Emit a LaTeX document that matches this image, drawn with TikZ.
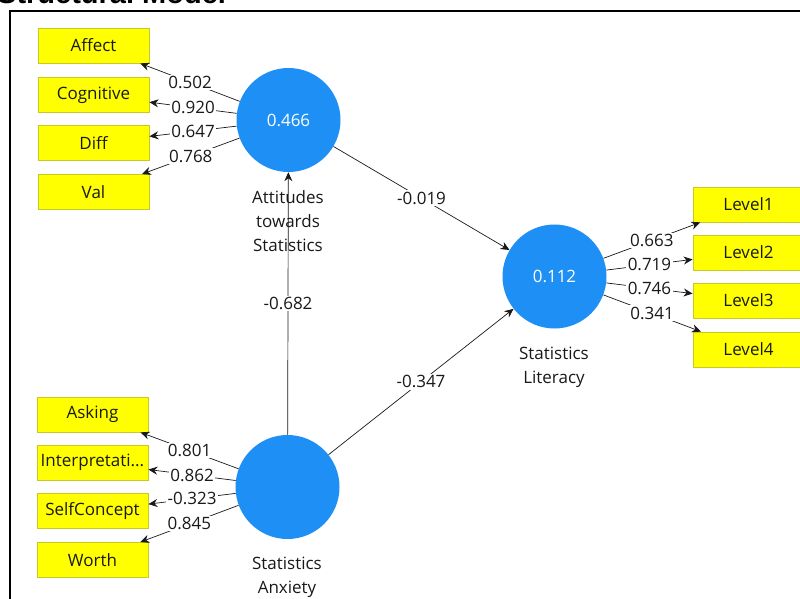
\documentclass[tikz,border=0pt]{standalone}
\usepackage{fontspec}
\setmainfont{Open Sans}
\newfontfamily\titlefont{Liberation Sans}
\usetikzlibrary{arrows.meta}
\definecolor{lvblue}{RGB}{30,143,245}
\definecolor{indyellow}{RGB}{255,255,0}
\definecolor{indborder}{RGB}{200,200,40}
\definecolor{txt}{RGB}{25,25,25}
\begin{document}
\begin{tikzpicture}[x=1pt,y=-1pt,
  font=\fontsize{17}{20}\selectfont,
  indbox/.style={draw=indborder, line width=0.8pt, fill=indyellow, minimum width=111pt, minimum height=35pt, inner sep=0pt, text=txt},
  latent/.style={circle, fill=lvblue, minimum size=104pt, inner sep=0pt, text=white},
  lvname/.style={align=center, text=txt, font=\fontsize{17}{24}\selectfont},
  conn/.style={draw=txt, line width=0.7pt, -{Stealth[length=9pt,width=8pt]}},
  coef/.style={fill=white, inner sep=1.5pt, text=txt}]
\useasboundingbox (0,0) rectangle (800,599);
\begin{scope}
\clip (0,0) rectangle (800,599);
% title (cut off at top)
\node[anchor=base west, inner sep=0pt, font=\titlefont\bfseries\fontsize{29}{32}\selectfont] (title) at (-3,3.5) {Structural Model};
% frame
\draw[line width=1.6pt] (10,610) -- (10,11) -- (810,11);
% indicator boxes
\node[indbox] (affect) at (93.5,45.5) {Affect};
\node[indbox] (cog) at (93.5,95) {Cognitive};
\node[indbox] (diff) at (93.5,143) {Diff};
\node[indbox] (val) at (93.5,192) {Val};
\node[indbox] (ask) at (92.5,414.5) {Asking};
\node[indbox] (interp) at (92.5,462.5) {Interpretati...};
\node[indbox] (self) at (92.5,511) {SelfConcept};
\node[indbox] (worth) at (92.5,560) {Worth};
\node[indbox] (l1) at (748.5,204.5) {Level1};
\node[indbox] (l2) at (748.5,252.5) {Level2};
\node[indbox] (l3) at (748.5,300.5) {Level3};
\node[indbox] (l4) at (748.5,349.5) {Level4};
% latent variables
\node[latent] (att) at (288.5,120) {0.466};
\node[latent] (anx) at (287.5,487) {};
\node[latent] (lit) at (554.5,276.5) {0.112};
% structural paths
\draw[conn] (att) -- node[coef] {-0.019} (lit);
\draw[conn] (anx) -- node[coef] {-0.682} (att);
\draw[conn] (anx) -- node[coef] {-0.347} (lit);
% names
\node[lvname, anchor=north] (attname) at (288,187) {Attitudes\\towards\\Statistics};
\node[lvname, anchor=north] (litname) at (554,343) {Statistics\\Literacy};
\node[lvname, anchor=north] (anxname) at (287,553) {Statistics\\Anxiety};
% outer loadings
\draw[conn] (att) -- node[coef] {0.502} (affect);
\draw[conn] (att) -- node[coef] {0.920} (cog);
\draw[conn] (att) -- node[coef] {0.647} (diff);
\draw[conn] (att) -- node[coef] {0.768} (val);
\draw[conn] (anx) -- node[coef] {0.801} (ask);
\draw[conn] (anx) -- node[coef] {0.862} (interp);
\draw[conn] (anx) -- node[coef] {-0.323} (self);
\draw[conn] (anx) -- node[coef] {0.845} (worth);
\draw[conn] (lit) -- node[coef] {0.663} (l1);
\draw[conn] (lit) -- node[coef] {0.719} (l2);
\draw[conn] (lit) -- node[coef] {0.746} (l3);
\draw[conn] (lit) -- node[coef] {0.341} (l4);
\end{scope}
\end{tikzpicture}
\end{document}
